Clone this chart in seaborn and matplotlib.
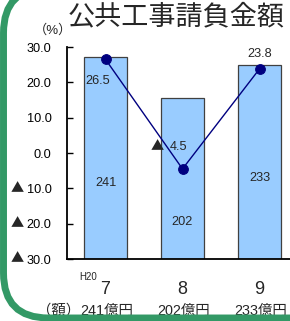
import numpy as np
import pandas as pd
from matplotlib import pyplot as plt, ticker
from matplotlib.patches import FancyBboxPatch
import seaborn as sns

# data
months = ["7", "8", "9"]
amounts = [241, 202, 233]          # 億円 (bars)
pct_change = [26.5, -4.5, 23.8]    # 前年同月比 % (line)
amount_labels = ["241億円", "202億円", "233億円"]

sns.set_style("white")
plt.rcParams['font.family'] = ['Liberation Sans', 'Noto Sans CJK JP', 'DejaVu Sans']
TRI = dict(family='Noto Sans CJK JP', fontsize=9.5)

W, H = 290, 321
fig = plt.figure(figsize=(W / 100, H / 100), dpi=100)

ax = fig.add_axes([67 / W, 62 / H, 231 / W, 212 / H])
ax2 = ax.twinx()

df = pd.DataFrame({"month": months, "amount": amounts, "pct": pct_change})

sns.barplot(data=df, x="month", y="amount", ax=ax2, color="#99CCFF",
            saturation=1, width=0.55, edgecolor="#404040", linewidth=0.9)
ax2.set_ylim(50, 250)
ax2.set_yticks([])
ax2.set_ylabel("")
for s in ax2.spines.values():
    s.set_visible(False)

sns.pointplot(data=df, x="month", y="pct", ax=ax, color="#000080",
              markers="o", markersize=7, linewidth=1)
ax.set_zorder(ax2.get_zorder() + 1)
ax.patch.set_visible(False)

ax.set_ylim(-30, 30)
ax.set_xlim(-0.5, 2.5)
yticks = np.arange(-30, 31, 10)
ax.set_yticks(yticks)
ax.yaxis.set_major_formatter(ticker.FuncFormatter(lambda v, _: f"{abs(v):.1f}"))
ax.tick_params(axis='y', direction='in', length=4, width=1, labelsize=9.2, pad=11, colors='black')
# negative values are written with a leading triangle
for v in yticks[yticks < 0]:
    ax.text(-0.215, v, "▲", transform=ax.get_yaxis_transform(), ha='center', va='center', **TRI)
ax.tick_params(axis='x', which='major', length=0, labelsize=13, pad=16)
ax.xaxis.set_minor_locator(ticker.FixedLocator([0.5, 1.5]))
ax.tick_params(axis='x', which='minor', direction='in', length=4, width=1)
ax.set_xlabel("")
ax.set_ylabel("")
for side in ("top", "right"):
    ax.spines[side].set_visible(False)
for side in ("left", "bottom"):
    ax.spines[side].set_color("black")
    ax.spines[side].set_linewidth(1.3)

# line value labels
ax.text(-0.1, pct_change[0] - 6.1, f"{pct_change[0]:.1f}", ha='center', va='center', fontsize=9.2)
ax.text(1 - 0.045, pct_change[1] + 6.2, f"{abs(pct_change[1]):.1f}", ha='center', va='center', fontsize=9.2)
ax.text(1 - 0.325, pct_change[1] + 6.2, "▲", ha='center', va='center', **TRI)
ax.text(2, pct_change[2] + 4.2, f"{pct_change[2]:.1f}", ha='center', va='center', fontsize=9.2)

# bar value labels
drops = [126, 124, 113]
for i, (v, d) in enumerate(zip(amounts, drops)):
    ax2.annotate(f"{v}", (i, v), xytext=(0, -d * 0.72), textcoords='offset points',
                 ha='center', va='center', fontsize=9.2)

# bottom amount row
for i, lab in enumerate(amount_labels):
    ax.text(i + 0.02, -0.245, lab, transform=ax.get_xaxis_transform(),
            ha='center', va='center', fontsize=10.4)
ax.text(-0.33, -0.245, "（額）", transform=ax.get_xaxis_transform(),
        ha='right', va='center', fontsize=10.4)
ax.text(-0.22, -0.085, "H20", transform=ax.get_xaxis_transform(),
        ha='center', va='center', fontsize=7)

fig.text(176.5 / W, 1 - 17 / H, "公共工事請負金額", ha='center', va='center', fontsize=19.5)
fig.text(53 / W, 1 - 30 / H, "（%）", ha='center', va='center', fontsize=9.5)

# green rounded frame
frame = fig.add_axes([0, 0, 1, 1], zorder=10)
frame.set_xlim(0, W)
frame.set_ylim(H, 0)
frame.axis('off')
frame.patch.set_visible(False)
frame.add_patch(FancyBboxPatch((3.5, -12), 400, 330,
                               boxstyle="round,pad=0,rounding_size=45",
                               fill=False, edgecolor="#339966", linewidth=5))

fig.savefig("out.png", dpi=100)
